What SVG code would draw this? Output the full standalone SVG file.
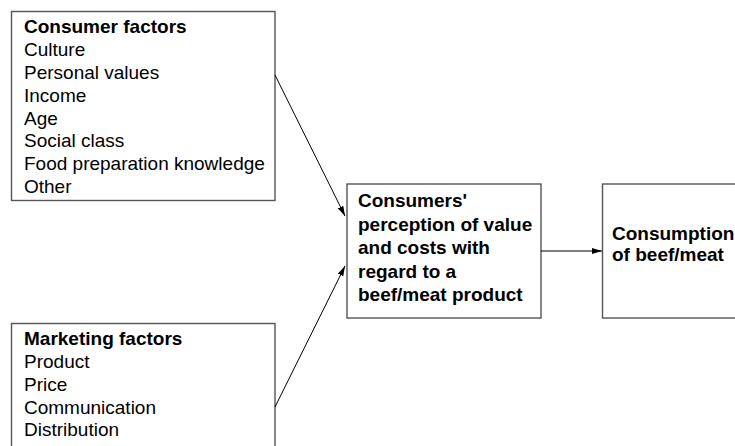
<svg xmlns="http://www.w3.org/2000/svg" width="735" height="446" viewBox="0 0 735 446">
<defs>
<marker id="ah" viewBox="0 0 10 6" refX="10" refY="3" markerWidth="10" markerHeight="6" markerUnits="userSpaceOnUse" orient="auto">
<path d="M0,0 L10,3 L0,6 Z" fill="#000"/>
</marker>
<style>
.box{fill:#fff;stroke:#555;stroke-width:1.4}
.t{font-family:"Liberation Sans",Arial,sans-serif;font-size:19px;fill:#000}
.b{font-weight:bold}
.c{stroke:#000;stroke-width:1;fill:none;marker-end:url(#ah)}
</style>
</defs>
<rect width="735" height="446" fill="#fff"/>
<g id="consumer-factors">
<rect class="box" x="11.5" y="11.5" width="263.5" height="189"/>
<text class="t b" x="24" y="33">Consumer factors</text>
<text class="t" x="24" y="56">Culture</text>
<text class="t" x="24" y="79">Personal values</text>
<text class="t" x="24" y="101.5">Income</text>
<text class="t" x="24" y="124.5">Age</text>
<text class="t" x="24" y="147">Social class</text>
<text class="t" x="24" y="170">Food preparation knowledge</text>
<text class="t" x="24" y="193">Other</text>
</g>
<g id="marketing-factors">
<rect class="box" x="11.5" y="323.5" width="263.5" height="140"/>
<text class="t b" x="24" y="345">Marketing factors</text>
<text class="t" x="24" y="368">Product</text>
<text class="t" x="24" y="391">Price</text>
<text class="t" x="24" y="413.5">Communication</text>
<text class="t" x="24" y="436">Distribution</text>
</g>
<g id="perception">
<rect class="box" x="347" y="184" width="194" height="134"/>
<text class="t b" x="358" y="207">Consumers'</text>
<text class="t b" x="358" y="230.5">perception of value</text>
<text class="t b" x="358" y="254">and costs with</text>
<text class="t b" x="358" y="277.5">regard to a</text>
<text class="t b" x="358" y="301">beef/meat product</text>
</g>
<g id="consumption">
<rect class="box" x="602.5" y="184" width="160" height="134"/>
<text class="t b" x="612" y="240">Consumption</text>
<text class="t b" x="612" y="261">of beef/meat</text>
</g>
<g id="connectors">
<line class="c" x1="275" y1="75" x2="345" y2="216"/>
<line class="c" x1="275" y1="407" x2="345" y2="266"/>
<line class="c" x1="541" y1="251" x2="602" y2="251"/>
</g>
</svg>
